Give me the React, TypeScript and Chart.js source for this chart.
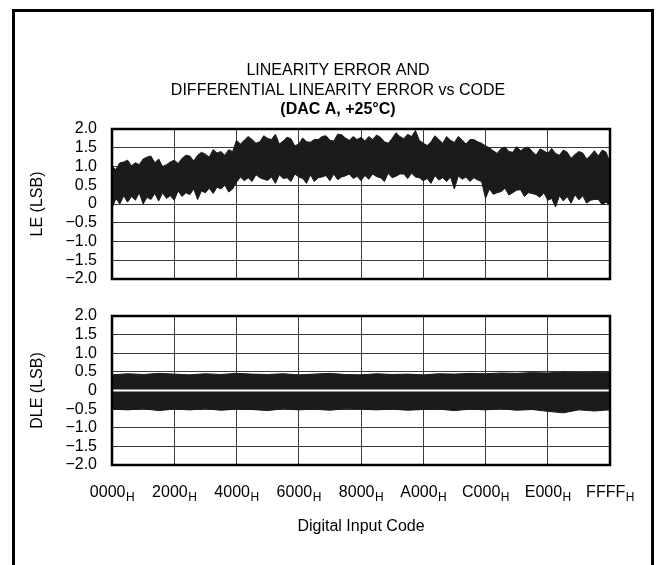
import React, { useEffect, useRef } from 'react';
import { Chart, registerables } from 'chart.js';

Chart.register(...registerables);

const FONT = '"Liberation Sans", Arial, Helvetica, sans-serif';

const titleLines = ['LINEARITY ERROR AND', 'DIFFERENTIAL LINEARITY ERROR vs CODE'];
const subtitleText = '(DAC A, +25\u00B0C)';
const xTickValues = [0x0000, 0x2000, 0x4000, 0x6000, 0x8000, 0xa000, 0xc000, 0xe000, 0xffff];
const xTickLabels = ['0000', '2000', '4000', '6000', '8000', 'A000', 'C000', 'E000', 'FFFF'];
const xTickSuffix = 'H';
const xAxisTitle = 'Digital Input Code';
const leAxisTitle = 'LE (LSB)';
const dleAxisTitle = 'DLE (LSB)';
const yMin = -2;
const yMax = 2;
const yStep = 0.5;
const codeMax = 0xffff;

// LE envelope (upper / lower edge of the noisy trace), sampled every 512 codes
const leStep = 512;
const leUpper = [
  1.0, 0.92, 1.1, 1.12, 1.17, 1.02, 1.1, 1.05, 1.2, 1.25, 1.28, 1.1, 1.2, 1.0, 1.05, 1.12,
  1.17, 1.08, 1.22, 1.3, 1.28, 1.15, 1.3, 1.38, 1.33, 1.25, 1.45, 1.36, 1.4, 1.3, 1.45, 1.4,
  1.7, 1.6, 1.7, 1.8, 1.72, 1.62, 1.66, 1.82, 1.75, 1.72, 1.86, 1.6, 1.68, 1.78, 1.74, 1.55,
  1.6, 1.76, 1.66, 1.65, 1.72, 1.72, 1.8, 1.82, 1.7, 1.68, 1.86, 1.85, 1.76, 1.7, 1.8, 1.72,
  1.78, 1.68, 1.8, 1.72, 1.84, 1.78, 1.66, 1.62, 1.75, 1.9, 1.8, 1.74, 1.86, 1.8, 1.96, 1.7,
  1.62, 1.56, 1.66, 1.82, 1.72, 1.62, 1.8, 1.7, 1.64, 1.8, 1.71, 1.6, 1.72, 1.72, 1.66, 1.62,
  1.55, 1.5, 1.42, 1.35, 1.48, 1.52, 1.4, 1.38, 1.53, 1.42, 1.49, 1.52, 1.4, 1.3, 1.47, 1.42,
  1.35, 1.48, 1.35, 1.3, 1.44, 1.38, 1.22, 1.32, 1.4, 1.36, 1.2, 1.3, 1.42, 1.28, 1.44, 1.38,
  1.1,
];
const leLower = [
  -0.12, 0.15, 0.0, 0.22, 0.05, 0.2, 0.1, 0.3, 0.0, 0.18, 0.12, 0.28, 0.08, 0.3, 0.15, 0.22,
  0.1, 0.35, 0.2, 0.3, 0.25, 0.4, 0.12, 0.35, 0.3, 0.42, 0.28, 0.45, 0.4, 0.5, 0.32, 0.4,
  0.58, 0.72, 0.62, 0.7, 0.6, 0.78, 0.7, 0.66, 0.63, 0.72, 0.55, 0.78, 0.68, 0.7, 0.6, 0.8,
  0.72, 0.68, 0.55, 0.78, 0.6, 0.7, 0.72, 0.76, 0.62, 0.8, 0.65, 0.72, 0.75, 0.8, 0.68, 0.74,
  0.62, 0.76, 0.66, 0.8, 0.73, 0.7, 0.6, 0.82, 0.7, 0.74, 0.8, 0.8, 0.68, 0.82, 0.72, 0.7,
  0.62, 0.68, 0.55, 0.76, 0.64, 0.7, 0.6, 0.72, 0.4, 0.75, 0.66, 0.72, 0.6, 0.7, 0.64, 0.6,
  0.15, 0.4, 0.26, 0.3, 0.33, 0.42, 0.24, 0.3, 0.37, 0.38, 0.2, 0.3, 0.28, 0.25, 0.18, 0.3,
  0.1, 0.15, -0.08, 0.22, 0.08, 0.2, 0.02, 0.25, 0.11, 0.22, 0.02, 0.1, 0.12, 0.12, -0.02, 0.05,
  -0.05,
];

// DLE envelope, sampled every 2048 codes
const dleStep = 2048;
const dleUpper = [
  0.42, 0.45, 0.43, 0.46, 0.44, 0.42, 0.45, 0.43, 0.46, 0.44, 0.43, 0.45, 0.42, 0.44, 0.46, 0.43,
  0.42, 0.45, 0.43, 0.44, 0.42, 0.45, 0.44, 0.46, 0.45, 0.47, 0.46, 0.48, 0.47, 0.5, 0.48, 0.5, 0.49,
];
const dleLower = [
  -0.5, -0.52, -0.49, -0.54, -0.5, -0.52, -0.49, -0.53, -0.5, -0.51, -0.54, -0.49, -0.52, -0.5, -0.53, -0.49,
  -0.5, -0.52, -0.5, -0.53, -0.51, -0.5, -0.54, -0.5, -0.52, -0.49, -0.53, -0.51, -0.56, -0.6, -0.52, -0.55, -0.52,
];

const INK = '#1b1b1b';
const GRID = '#3a3a3a';

const toPoints = (values: number[], step: number) =>
  values.map((y, i) => ({ x: Math.min(i * step, codeMax), y }));

const fmtY = (v: number) => {
  if (Math.abs(v) < 1e-9) return '0';
  return v < 0 ? '\u2212' + Math.abs(v).toFixed(1) : v.toFixed(1);
};

const framePlugin = {
  id: 'frame',
  afterDatasetsDraw(chart: any) {
    const { ctx, chartArea: a } = chart;
    ctx.save();
    ctx.strokeStyle = '#000';
    ctx.lineWidth = 2.5;
    ctx.strokeRect(a.left, a.top, a.right - a.left, a.bottom - a.top);
    ctx.restore();
  },
};

const titlePlugin = {
  id: 'titleText',
  afterDraw(chart: any) {
    const { ctx, chartArea } = chart;
    const cx = chart.width / 2 + 8;
    ctx.save();
    ctx.fillStyle = '#000';
    ctx.textAlign = 'center';
    ctx.textBaseline = 'middle';
    ctx.font = '16px ' + FONT;
    titleLines.forEach((t, i) => {
      ctx.fillText(t, cx, chartArea.top - 58 + i * 20);
    });
    ctx.font = 'bold 16px ' + FONT;
    ctx.fillText(subtitleText, cx, chartArea.top - 19);
    ctx.restore();
  },
};

const xLabelPlugin = {
  id: 'xLabels',
  afterDraw(chart: any) {
    const { ctx, chartArea } = chart;
    const xs = chart.scales.x;
    const y = chartArea.bottom + 32;
    ctx.save();
    ctx.fillStyle = '#000';
    ctx.textBaseline = 'alphabetic';
    ctx.textAlign = 'left';
    xTickLabels.forEach((lab, i) => {
      const px = xs.getPixelForValue(xTickValues[i]);
      ctx.font = '16px ' + FONT;
      const w1 = ctx.measureText(lab).width;
      ctx.font = '12px ' + FONT;
      const w2 = ctx.measureText(xTickSuffix).width;
      const start = px - (w1 + w2) / 2;
      ctx.font = '16px ' + FONT;
      ctx.fillText(lab, start, y);
      ctx.font = '12px ' + FONT;
      ctx.fillText(xTickSuffix, start + w1 + 0.5, y + 4);
    });
    ctx.restore();
  },
};

function xScale(showTitle: boolean, height: number) {
  return {
    type: 'linear',
    min: 0,
    max: codeMax,
    afterBuildTicks: (s: any) => {
      s.ticks = xTickValues.map((v) => ({ value: v }));
    },
    afterFit: (s: any) => {
      s.height = height;
    },
    ticks: { display: false },
    grid: { color: GRID, lineWidth: 1, drawTicks: false },
    border: { display: false },
    title: {
      display: showTitle,
      text: xAxisTitle,
      color: '#000',
      font: { size: 16, family: FONT },
      padding: { top: 0, bottom: 8.4 },
    },
  };
}

function yScale(title: string) {
  return {
    type: 'linear',
    min: yMin,
    max: yMax,
    afterFit: (s: any) => {
      s.width = 84;
    },
    ticks: {
      stepSize: yStep,
      autoSkip: false,
      color: '#000',
      padding: 15,
      font: { size: 16, family: FONT, lineHeight: 1 },
      callback: (v: any) => fmtY(Number(v)),
    },
    grid: { color: GRID, lineWidth: 1, drawTicks: false },
    border: { display: false },
    title: {
      display: true,
      text: title,
      color: '#000',
      font: { size: 16, family: FONT },
      padding: { top: 0, bottom: 0 },
    },
  };
}

const band = (data: any[], fill: any) => ({
  data,
  fill,
  backgroundColor: INK,
  borderColor: INK,
  borderWidth: 1,
  pointRadius: 0,
  tension: 0,
  order: 1,
});

export default function App() {
  const topRef = useRef<HTMLCanvasElement>(null);
  const botRef = useRef<HTMLCanvasElement>(null);

  useEffect(() => {
    Chart.defaults.font.family = FONT;
    const leU = toPoints(leUpper, leStep);
    const leL = toPoints(leLower, leStep);
    const dU = toPoints(dleUpper, dleStep);
    const dL = toPoints(dleLower, dleStep);
    const zero = dleUpper.map((_, i) => ({ x: Math.min(i * dleStep, codeMax), y: 0 }));

    const top = new Chart(topRef.current as HTMLCanvasElement, {
      type: 'line',
      data: { datasets: [band(leU, '+1'), band(leL, false)] as any },
      options: {
        responsive: false,
        animation: false,
        layout: { padding: { left: 28, right: 50, top: 129, bottom: 0 } },
        plugins: {
          legend: { display: false },
          tooltip: { enabled: false },
          title: { display: false },
        },
        scales: { x: xScale(false, 11), y: yScale(leAxisTitle) } as any,
      },
      plugins: [framePlugin, titlePlugin],
    } as any);

    const bot = new Chart(botRef.current as HTMLCanvasElement, {
      type: 'line',
      data: {
        datasets: [
          {
            data: zero,
            fill: false,
            borderColor: '#ffffff',
            borderWidth: 2,
            pointRadius: 0,
            order: 0,
          },
          band(dU, 'origin'),
          band(dL, 'origin'),
        ] as any,
      },
      options: {
        responsive: false,
        animation: false,
        layout: { padding: { left: 28, right: 50, top: 26, bottom: 20 } },
        plugins: {
          legend: { display: false },
          tooltip: { enabled: false },
        },
        scales: { x: xScale(true, 80), y: yScale(dleAxisTitle) } as any,
      },
      plugins: [framePlugin, xLabelPlugin],
    } as any);

    return () => {
      top.destroy();
      bot.destroy();
    };
  }, []);

  return (
    <div
      style={{
        position: 'absolute',
        left: 0,
        top: 0,
        width: 660,
        height: 565,
        overflow: 'hidden',
        background: '#fff',
      }}
    >
      <div
        style={{
          position: 'absolute',
          left: 12,
          top: 9,
          width: 636,
          height: 620,
          border: '3px solid #000',
        }}
      />
      <canvas
        ref={topRef}
        width={660}
        height={302}
        style={{ position: 'absolute', left: 0, top: 0, display: 'block' }}
      />
      <canvas
        ref={botRef}
        width={660}
        height={275}
        style={{ position: 'absolute', left: 0, top: 290, display: 'block' }}
      />
    </div>
  );
}
